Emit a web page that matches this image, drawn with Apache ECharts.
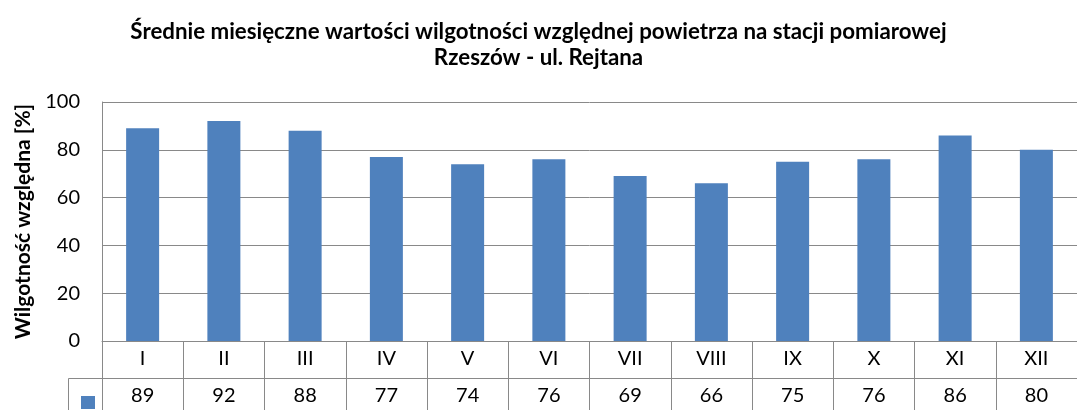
<!DOCTYPE html>
<html>
<head>
<meta charset="utf-8">
<script src="https://cdn.jsdelivr.net/npm/echarts@6/dist/echarts.min.js"></script>
<style>
  html, body { margin: 0; padding: 0; background: #fff; }
  #chart { width: 1077px; height: 410px; }
</style>
</head>
<body>
<div id="chart"></div>
<script>
// Monthly mean relative humidity, Rzeszów - ul. Rejtana
const months = ['I', 'II', 'III', 'IV', 'V', 'VI', 'VII', 'VIII', 'IX', 'X', 'XI', 'XII'];
const humidity = [89, 92, 88, 77, 74, 76, 69, 66, 75, 76, 86, 80];
const yTicks = { min: 0, max: 100, interval: 20 };

const titleText = 'Średnie miesięczne wartości wilgotności względnej powietrza na stacji pomiarowej\nRzeszów - ul. Rejtana';
const yName = 'Wilgotność względna [%]';

const FONT = 'Lato, "Open Sans", sans-serif';
const LINE = '#898989';
const BAR = '#4F81BD';

const chart = echarts.init(document.getElementById('chart'), null, { renderer: 'canvas' });

chart.setOption({
  animation: false,
  backgroundColor: '#fff',
  title: {
    text: titleText,
    left: 'center',
    top: 14,
    // extra left padding nudges the centred title slightly to the right
    padding: [5, 5, 5, 19],
    textStyle: { fontFamily: FONT, fontSize: 22.3, fontWeight: 'bold', color: '#000', lineHeight: 26 }
  },
  legend: {
    left: 76,
    top: 391,
    icon: 'rect',
    itemWidth: 14,
    itemHeight: 13,
    formatter: () => '',
    selectedMode: false,
    data: ['Wilgotność']
  },
  grid: { left: 102, top: 102, width: 989, height: 239, containLabel: false },
  xAxis: [
    {
      type: 'category',
      data: months,
      position: 'bottom',
      axisLine: { show: true, lineStyle: { color: LINE, width: 1 } },
      axisTick: { show: true, length: 37, interval: 0, lineStyle: { color: LINE } },
      axisLabel: { fontFamily: FONT, fontSize: 20, color: '#000', margin: 8, interval: 0 }
    },
    {
      // data-table row: one value per month below the category labels
      type: 'category',
      data: humidity.map(String),
      position: 'bottom',
      offset: 37,
      axisLine: { show: true, lineStyle: { color: LINE, width: 1 } },
      axisTick: { show: true, length: 40, interval: 0, lineStyle: { color: LINE } },
      axisLabel: { fontFamily: FONT, fontSize: 20, color: '#000', margin: 8, interval: 0 }
    }
  ],
  yAxis: {
    type: 'value',
    min: yTicks.min,
    max: yTicks.max,
    interval: yTicks.interval,
    name: yName,
    nameLocation: 'middle',
    nameRotate: 90,
    nameGap: 68,
    nameTextStyle: { fontFamily: FONT, fontSize: 21, fontWeight: 'bold', color: '#000' },
    axisLine: { show: true, lineStyle: { color: LINE } },
    axisTick: { show: false },
    axisLabel: { fontFamily: FONT, fontSize: 20, color: '#000', margin: 22 },
    splitLine: { show: true, lineStyle: { color: LINE, width: 1 } }
  },
  graphic: [
    // legend cell border of the data table
    { type: 'line', shape: { x1: 68.5, y1: 378.5, x2: 102, y2: 378.5 }, style: { stroke: LINE, lineWidth: 1 } },
    { type: 'line', shape: { x1: 68.5, y1: 378.5, x2: 68.5, y2: 410 }, style: { stroke: LINE, lineWidth: 1 } }
  ],
  series: [
    {
      name: 'Wilgotność',
      type: 'bar',
      xAxisIndex: 0,
      data: humidity,
      barWidth: 33,
      itemStyle: { color: BAR }
    }
  ]
});
</script>
</body>
</html>
